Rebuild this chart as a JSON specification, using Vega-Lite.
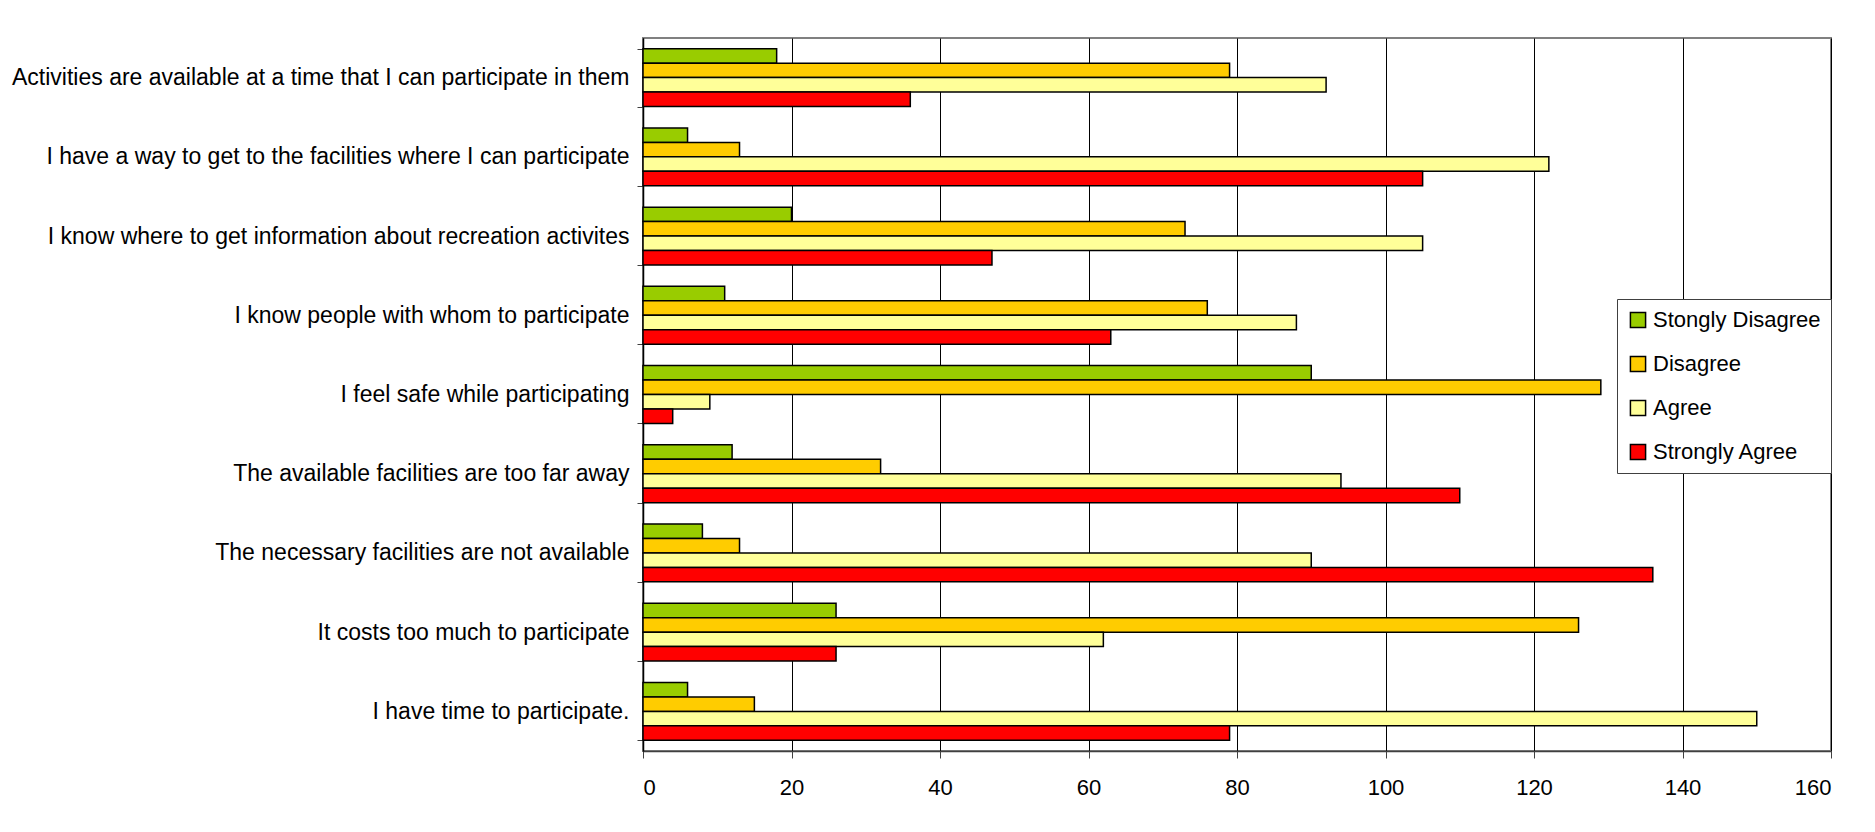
{
  "$schema": "https://vega.github.io/schema/vega-lite/v6.json",
  "width": 1188,
  "height": 713,
  "autosize": {"type": "none"},
  "padding": {"left": 643, "top": 38, "right": 44, "bottom": 81},
  "background": "white",
  "data": {
    "values": [
      {"item": "Activities are available at a time that I can participate in them", "response": "Stongly Disagree", "count": 18},
      {"item": "Activities are available at a time that I can participate in them", "response": "Disagree", "count": 79},
      {"item": "Activities are available at a time that I can participate in them", "response": "Agree", "count": 92},
      {"item": "Activities are available at a time that I can participate in them", "response": "Strongly Agree", "count": 36},
      {"item": "I have a way to get to the facilities where I can participate", "response": "Stongly Disagree", "count": 6},
      {"item": "I have a way to get to the facilities where I can participate", "response": "Disagree", "count": 13},
      {"item": "I have a way to get to the facilities where I can participate", "response": "Agree", "count": 122},
      {"item": "I have a way to get to the facilities where I can participate", "response": "Strongly Agree", "count": 105},
      {"item": "I know where to get information about recreation activites", "response": "Stongly Disagree", "count": 20},
      {"item": "I know where to get information about recreation activites", "response": "Disagree", "count": 73},
      {"item": "I know where to get information about recreation activites", "response": "Agree", "count": 105},
      {"item": "I know where to get information about recreation activites", "response": "Strongly Agree", "count": 47},
      {"item": "I know people with whom to participate", "response": "Stongly Disagree", "count": 11},
      {"item": "I know people with whom to participate", "response": "Disagree", "count": 76},
      {"item": "I know people with whom to participate", "response": "Agree", "count": 88},
      {"item": "I know people with whom to participate", "response": "Strongly Agree", "count": 63},
      {"item": "I feel safe while participating", "response": "Stongly Disagree", "count": 90},
      {"item": "I feel safe while participating", "response": "Disagree", "count": 129},
      {"item": "I feel safe while participating", "response": "Agree", "count": 9},
      {"item": "I feel safe while participating", "response": "Strongly Agree", "count": 4},
      {"item": "The available facilities are too far away", "response": "Stongly Disagree", "count": 12},
      {"item": "The available facilities are too far away", "response": "Disagree", "count": 32},
      {"item": "The available facilities are too far away", "response": "Agree", "count": 94},
      {"item": "The available facilities are too far away", "response": "Strongly Agree", "count": 110},
      {"item": "The necessary facilities are not available", "response": "Stongly Disagree", "count": 8},
      {"item": "The necessary facilities are not available", "response": "Disagree", "count": 13},
      {"item": "The necessary facilities are not available", "response": "Agree", "count": 90},
      {"item": "The necessary facilities are not available", "response": "Strongly Agree", "count": 136},
      {"item": "It costs too much to participate", "response": "Stongly Disagree", "count": 26},
      {"item": "It costs too much to participate", "response": "Disagree", "count": 126},
      {"item": "It costs too much to participate", "response": "Agree", "count": 62},
      {"item": "It costs too much to participate", "response": "Strongly Agree", "count": 26},
      {"item": "I have time to participate.", "response": "Stongly Disagree", "count": 6},
      {"item": "I have time to participate.", "response": "Disagree", "count": 15},
      {"item": "I have time to participate.", "response": "Agree", "count": 150},
      {"item": "I have time to participate.", "response": "Strongly Agree", "count": 79}
    ]
  },
  "mark": {"type": "bar", "stroke": "black", "strokeWidth": 1.5},
  "encoding": {
    "y": {
      "field": "item",
      "type": "nominal",
      "sort": [
        "Activities are available at a time that I can participate in them",
        "I have a way to get to the facilities where I can participate",
        "I know where to get information about recreation activites",
        "I know people with whom to participate",
        "I feel safe while participating",
        "The available facilities are too far away",
        "The necessary facilities are not available",
        "It costs too much to participate",
        "I have time to participate."
      ],
      "scale": {"paddingInner": 0.27, "paddingOuter": 0.135},
      "axis": {
        "title": null,
        "labelFont": "Liberation Sans",
        "labelFontSize": 23,
        "labelColor": "black",
        "labelLimit": 700,
        "labelPadding": 8,
        "tickBand": "extent",
        "tickSize": 6,
        "tickColor": "#404040",
        "domainColor": "black",
        "domainWidth": 1.5,
        "grid": false
      }
    },
    "x": {
      "field": "count",
      "type": "quantitative",
      "scale": {"domain": [0, 160], "nice": false},
      "axis": {
        "title": null,
        "values": [0, 20, 40, 60, 80, 100, 120, 140, 160],
        "labelFont": "Liberation Sans",
        "labelFontSize": 22,
        "labelColor": "black",
        "labelPadding": 19,
        "tickSize": 7,
        "tickColor": "#404040",
        "domainColor": "#404040",
        "domainWidth": 1.5,
        "grid": true,
        "gridColor": "black",
        "gridOpacity": 1,
        "gridWidth": 1
      }
    },
    "yOffset": {
      "field": "response",
      "type": "nominal",
      "sort": ["Stongly Disagree", "Disagree", "Agree", "Strongly Agree"]
    },
    "color": {
      "field": "response",
      "type": "nominal",
      "sort": ["Stongly Disagree", "Disagree", "Agree", "Strongly Agree"],
      "scale": {
        "domain": ["Stongly Disagree", "Disagree", "Agree", "Strongly Agree"],
        "range": ["#99CC00", "#FFCC00", "#FFFF99", "#FF0000"]
      },
      "legend": {
        "title": null,
        "orient": "none",
        "legendX": 974,
        "legendY": 261,
        "strokeColor": "#404040",
        "fillColor": "white",
        "padding": 10,
        "labelFont": "Liberation Sans",
        "labelFontSize": 22,
        "labelColor": "black",
        "labelLimit": 400,
        "labelOffset": 4,
        "symbolType": "square",
        "symbolSize": 230,
        "symbolStrokeColor": "black",
        "symbolStrokeWidth": 1.5,
        "rowPadding": 22
      }
    }
  },
  "config": {
    "view": {"stroke": "#808080", "strokeWidth": 2}
  }
}
